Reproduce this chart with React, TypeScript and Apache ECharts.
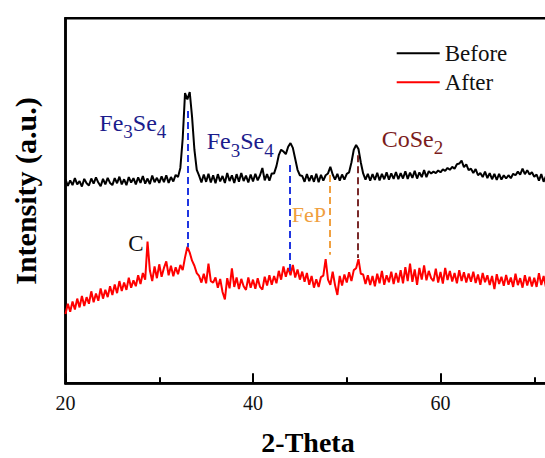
import React, { useEffect, useRef } from "react";
import * as echarts from "echarts";

// 2-Theta sampling of the patterns
const thetaStart = 20;
const thetaStep = 0.25;

// Intensity (a.u.), "Before" pattern
const beforeValues = [
  55.9, 54.1, 55.6, 54.3, 56.2, 54.5, 55.4, 53.9, 56.0, 54.8,
  54.2, 56.1, 54.7, 56.4, 55.0, 54.0, 56.0, 54.5, 56.3, 54.9,
  54.3, 56.2, 54.8, 56.6, 54.5, 55.9, 54.3, 56.5, 55.0, 56.2,
  54.5, 56.4, 54.9, 56.8, 54.7, 56.1, 54.6, 56.9, 55.1, 56.3,
  54.9, 56.7, 55.1, 57.0, 54.9, 56.5, 55.3, 57.1, 56.5,
  59.0, 67.0, 79.5, 77.8, 79.8, 73.0, 64.0, 58.5,
  56.9, 55.0, 57.2, 55.2, 57.4, 55.0, 57.0, 54.8, 57.3, 55.3, 56.8, 54.9, 57.6, 55.4,
  57.0, 54.9, 57.3, 55.2, 57.6, 55.4, 56.9, 55.0,
  57.2, 55.3, 57.4, 55.6, 57.0, 59.0, 55.6, 57.3, 55.5, 57.5,
  57.5, 59.5, 62.5, 64.0, 63.5, 62.8, 64.8, 65.8, 64.5, 61.5, 58.5, 57.0,
  56.8, 55.2, 57.3, 55.4, 57.0, 55.2, 57.4, 55.1, 57.1, 55.5, 57.0,
  57.5, 59.3, 57.2, 55.8, 57.4, 55.5, 57.2, 55.8, 57.4, 57.8, 60.5, 64.0, 65.3, 64.2, 60.5, 57.5, 55.8,
  57.4, 55.5, 57.3, 55.7, 57.7, 55.6, 57.4, 55.9, 57.8, 55.8, 57.5, 56.0,
  57.9, 55.9, 57.6, 56.1, 58.1, 56.0, 57.7, 56.3, 58.2, 56.1, 57.8, 56.5, 58.4, 56.5, 58.1, 57.5,
  58.0, 57.6, 58.3, 57.8, 58.6, 58.2, 59.0, 58.5, 59.3, 58.8, 60.0, 60.2, 61.0, 59.2, 60.0, 58.4,
  58.8, 57.6, 58.7, 57.0, 57.6, 56.5, 58.0, 56.2, 57.6, 55.9, 57.4, 55.7, 57.4, 55.8, 57.0, 56.1,
  57.0, 56.2, 57.4, 57.0, 58.0, 57.2, 58.8, 57.3, 58.4, 57.2, 57.8, 56.6,
  57.2, 55.5, 57.3, 55.2, 56.8, 55.0, 56.6, 55.1,
];

// Intensity (a.u.), "After" pattern
const afterValues = [
  19.0, 21.8, 19.6, 22.4, 20.2, 23.2, 20.8, 23.9, 21.2, 23.6,
  21.8, 25.2, 22.2, 24.6, 22.6, 26.0, 23.2, 25.6, 23.6, 26.6,
  24.2, 27.1, 24.7, 28.0, 25.3, 27.6, 25.6, 28.9, 26.2, 28.2,
  26.6, 29.6, 27.2, 30.2, 28.4, 38.8, 30.9, 28.0, 32.0, 28.8,
  32.6, 29.2, 31.6, 33.4, 29.6, 32.2, 29.3, 31.8, 29.9, 32.4,
  31.0, 34.5, 37.4, 35.8, 33.6, 32.2, 30.2, 29.4,
  27.6, 30.0, 27.4, 32.8, 28.0, 27.6, 29.0, 26.2, 28.6, 25.0, 23.0, 28.8, 26.0, 31.5,
  26.4, 29.0, 25.8, 28.6, 26.6, 25.6, 29.0, 26.2, 28.4, 25.9,
  28.8, 26.4, 25.7, 29.2, 26.8, 29.6, 27.0, 29.4,
  27.4, 30.8, 28.4, 32.0, 29.2, 31.6, 29.6, 32.4, 29.0, 31.2, 28.4, 30.6,
  27.8, 30.2, 27.0, 29.4, 26.2, 28.5,
  26.4, 29.1, 29.5, 34.0, 28.4, 27.0, 30.6, 26.9, 24.2, 29.4, 26.8, 29.8, 27.6, 30.4, 28.0, 31.0, 31.5, 34.0, 30.0, 29.8, 27.2,
  29.6, 26.9, 29.4, 26.6, 30.0, 27.4, 30.8, 27.0, 29.6, 27.7, 30.6, 27.2,
  30.2, 27.6, 31.0, 27.4, 31.8, 28.0, 32.8, 27.8, 31.2, 27.0, 31.6, 28.4, 32.3, 28.2, 30.8, 28.8,
  28.0, 31.4, 27.6, 30.5, 27.3, 31.6, 28.3, 30.8, 27.9, 30.2, 27.4, 31.0, 28.0, 30.4, 27.6, 30.1,
  27.8, 30.6, 27.5, 29.8, 27.0, 30.2, 27.7, 29.6, 26.9, 29.4, 25.8, 29.9, 27.2, 29.2, 26.7, 29.7,
  27.0, 29.0, 26.4, 30.0, 26.9, 28.8, 26.2, 29.6, 26.8, 29.2, 26.5, 28.9,
  26.4, 30.2, 26.9, 29.4, 26.3, 29.0, 26.6, 28.6,
];

// Dashed reference lines (2-Theta, top intensity, bottom intensity, colour)
const dropLineTheta = [33.03, 43.93, 48.2, 51.15];
const dropLineTop = [74.6, 59.8, 57.1, 62.5];
const dropLineBottom = [37.3, 29.7, 35.2, 34.3];
const dropLineColors = ["#1f35e0", "#1f35e0", "#f0a040", "#7a2a2a"];

const seriesNames = ["Before", "After"];
const xTickValues = [20, 40, 60];
const xTickLabels = ["20", "40", "60"];

const SERIF = "'Liberation Serif', 'Times New Roman', serif";

function toPairs(values: number[]) {
  return values.map((v, i) => [thetaStart + i * thetaStep, v]);
}

let measureCtx: CanvasRenderingContext2D | null = null;
function measure(text: string, size: number) {
  if (!measureCtx) measureCtx = document.createElement("canvas").getContext("2d");
  if (!measureCtx) return text.length * size * 0.5;
  measureCtx.font = `${size}px ${SERIF}`;
  return measureCtx.measureText(text).width;
}

function formulaTexts(x: number, y: number, parts: [string, boolean][], color: string, size: number, subSize: number, subDrop: number) {
  const els: any[] = [];
  let cx = x;
  for (const [t, sub] of parts) {
    const fs = sub ? subSize : size;
    els.push({
      type: "text",
      x: cx,
      y: sub ? y + subDrop : y,
      style: { text: t, fontFamily: SERIF, fontSize: fs, fill: color, align: "left", verticalAlign: "middle" },
    });
    cx += measure(t, fs);
  }
  return els;
}

export default function App() {
  const ref = useRef<HTMLDivElement>(null);
  useEffect(() => {
    if (!ref.current) return;
    const chart = echarts.init(ref.current, undefined, { renderer: "svg" });
    const markData = dropLineTheta.map((t, i) => [
      { coord: [t, dropLineTop[i]], lineStyle: { color: dropLineColors[i], type: [7, 4], width: 2 } },
      { coord: [t, dropLineBottom[i]] },
    ]);
    chart.setOption({
      animation: false,
      backgroundColor: "#ffffff",
      grid: {
        left: 65.5,
        right: -83,
        top: 18.3,
        bottom: 74.7,
        show: true,
        borderColor: "#000",
        borderWidth: 2.5,
        containLabel: false,
        outerBoundsMode: "none",
      },
      legend: {
        orient: "vertical",
        left: 396.7,
        top: 41.8,
        padding: 0,
        itemWidth: 43,
        itemHeight: 2,
        itemGap: 6,
        icon: "rect",
        data: seriesNames,
        textStyle: { fontFamily: SERIF, fontSize: 23, lineHeight: 23, color: "#111" },
      },
      xAxis: {
        type: "value",
        min: 20,
        max: 80,
        interval: 20,
        axisLine: { show: true, lineStyle: { color: "#000", width: 2.5 } },
        axisTick: { show: true, inside: true, length: 10, lineStyle: { color: "#000", width: 2 } },
        minorTick: { show: true, splitNumber: 2, length: 6, lineStyle: { color: "#000", width: 2 } },
        splitLine: { show: false },
        axisLabel: {
          margin: 10,
          fontFamily: SERIF,
          fontSize: 20,
          color: "#111",
          formatter: (v: number) => {
            const idx = xTickValues.indexOf(v);
            return idx >= 0 ? xTickLabels[idx] : "";
          },
        },
      },
      yAxis: {
        type: "value",
        min: 0,
        max: 100,
        axisLine: { show: true, lineStyle: { color: "#000", width: 2.5 } },
        axisTick: { show: false },
        axisLabel: { show: false },
        splitLine: { show: false },
      },
      series: [
        {
          name: seriesNames[0],
          type: "line",
          data: toPairs(beforeValues),
          showSymbol: false,
          symbol: "none",
          color: "#000000",
          lineStyle: { color: "#000000", width: 2 },
          z: 3,
          markLine: {
            silent: true,
            symbol: ["none", "none"],
            label: { show: false },
            data: markData,
            z: 5,
          },
        },
        {
          name: seriesNames[1],
          type: "line",
          data: toPairs(afterValues),
          showSymbol: false,
          symbol: "none",
          color: "#ff0000",
          lineStyle: { color: "#ff0000", width: 2 },
          z: 2,
        },
      ],
      graphic: [
        ...formulaTexts(99.3, 122.7, [["Fe", false], ["3", true], ["Se", false], ["4", true]], "#1c1c8c", 24, 19, 9),
        ...formulaTexts(206.7, 141, [["Fe", false], ["3", true], ["Se", false], ["4", true]], "#1c1c8c", 24, 19, 9),
        ...formulaTexts(381.7, 138.7, [["CoSe", false], ["2", true]], "#7b1c1c", 24, 19, 9),
        {
          type: "text",
          x: 291.7,
          y: 214.7,
          style: { text: "FeP", fontFamily: SERIF, fontSize: 22, fill: "#f0a040", align: "left", verticalAlign: "middle" },
        },
        {
          type: "text",
          x: 128.3,
          y: 243,
          style: { text: "C", fontFamily: SERIF, fontSize: 23, fill: "#111", align: "left", verticalAlign: "middle" },
        },
        {
          type: "text",
          x: 25,
          y: 191,
          rotation: Math.PI / 2,
          style: {
            text: "Intensity (a.u.)",
            fontFamily: SERIF,
            fontWeight: "bold",
            fontSize: 30,
            fill: "#000",
            align: "center",
            verticalAlign: "middle",
          },
        },
        {
          type: "text",
          x: 308,
          y: 442,
          style: {
            text: "2-Theta",
            fontFamily: SERIF,
            fontWeight: "bold",
            fontSize: 28,
            fill: "#000",
            align: "center",
            verticalAlign: "middle",
          },
        },
      ],
    });
    return () => chart.dispose();
  }, []);
  return <div ref={ref} style={{ position: "fixed", left: 0, top: 0, width: 545, height: 458 }} />;
}
